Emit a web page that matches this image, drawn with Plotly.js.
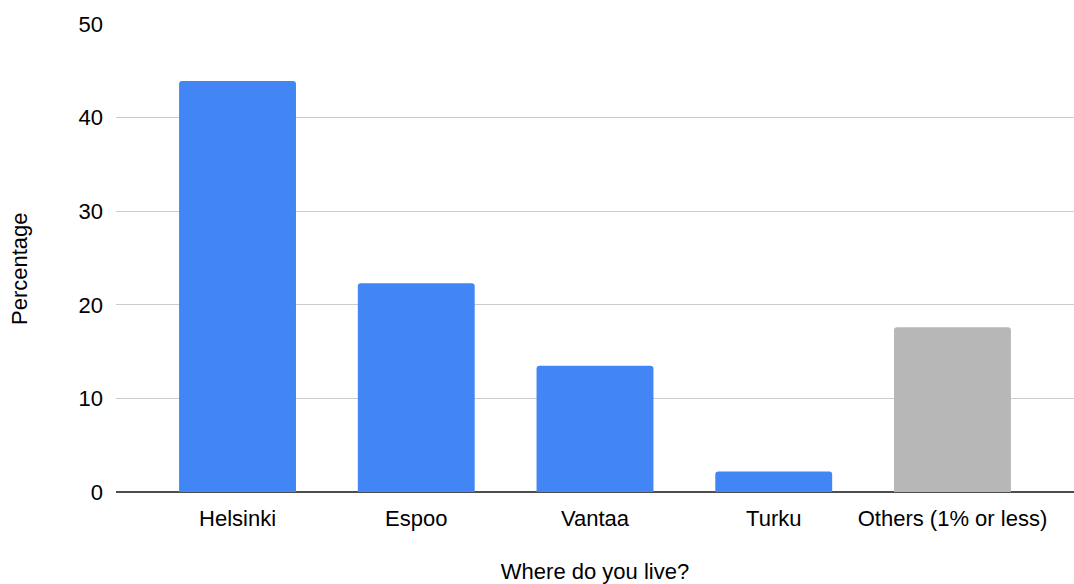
<!DOCTYPE html>
<html>
<head>
<meta charset="utf-8">
<script src="https://cdn.plot.ly/plotly-3.0.1.min.js"></script>
<style>
  html, body { margin: 0; padding: 0; background: #fff; }
  #chart { width: 1074px; height: 584px; }
</style>
</head>
<body>
<div id="chart"></div>
<script>
// Survey answers: where respondents live (share of respondents, %)
const cities = ["Helsinki", "Espoo", "Vantaa", "Turku", "Others (1% or less)"];
const percentages = [43.9, 22.3, 13.5, 2.2, 17.6];
const barColors = ["#4285F4", "#4285F4", "#4285F4", "#4285F4", "#B7B7B7"];
const yTicks = [0, 10, 20, 30, 40, 50];

const fontFamily = '"Liberation Sans", Arial, Helvetica, sans-serif';
const textSize = 22;

const trace = {
  type: "bar",
  x: cities,
  y: percentages,
  marker: { color: barColors, cornerradius: 3 },
  hoverinfo: "x+y"
};

const layout = {
  width: 1074,
  height: 584,
  margin: { l: 116, r: 0, t: 24, b: 92 },
  paper_bgcolor: "#ffffff",
  plot_bgcolor: "#ffffff",
  font: { family: fontFamily, size: textSize, color: "#000000" },
  bargap: 0.346,
  showlegend: false,
  xaxis: {
    type: "category",
    range: [-0.68, 4.68],
    showgrid: false,
    showline: false,
    zeroline: false,
    ticks: "",
    ticklabelstandoff: 11,
    tickfont: { size: textSize },
    title: { text: "Where do you live?", font: { size: textSize }, standoff: 34 },
    automargin: false
  },
  yaxis: {
    range: [0, 50],
    tickvals: yTicks,
    showgrid: true,
    gridcolor: "#cccccc",
    gridwidth: 1,
    zeroline: true,
    zerolinecolor: "#4d4d4d",
    zerolinewidth: 1.5,
    showline: false,
    ticks: "",
    ticklabelstandoff: 12,
    tickfont: { size: textSize },
    automargin: false
  },
  // Vertical axis title, placed as a rotated annotation left of the tick labels
  annotations: [{
    text: "Percentage",
    xref: "paper", yref: "paper",
    x: -0.1002, y: 0.4765,
    xanchor: "center", yanchor: "middle",
    textangle: -90,
    showarrow: false,
    font: { family: fontFamily, size: textSize, color: "#000000" }
  }]
};

Plotly.newPlot("chart", [trace], layout, { displayModeBar: false, staticPlot: true });
</script>
</body>
</html>
